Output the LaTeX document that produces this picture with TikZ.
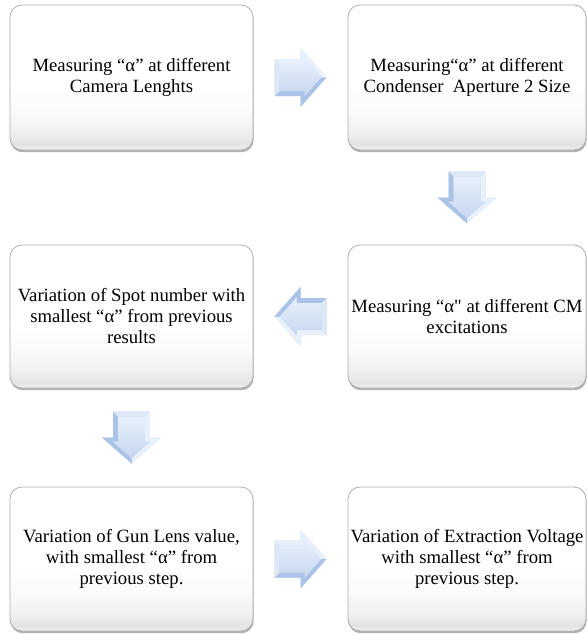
\documentclass[tikz,border=0pt]{standalone}
\usepackage{fontspec}
\setmainfont{Liberation Serif}
\newfontfamily\plainserif[Ligatures=ResetAll]{Liberation Serif}
\usetikzlibrary{calc,shadows}
\definecolor{arrlight}{RGB}{232,240,251}
\definecolor{arrmid}{RGB}{198,215,240}
\definecolor{arrdark}{RGB}{170,195,230}
\pgfdeclareverticalshading{boxshade}{100bp}{color(0bp)=(black!6); color(25bp)=(black!6); color(27bp)=(black!11); color(31bp)=(black!6); color(38bp)=(black!2); color(48bp)=(white); color(100bp)=(white)}
\tikzset{
  stepbox/.style={draw=black!32, line width=0.8pt, rounded corners=12pt,
    shading=boxshade, minimum width=240pt, minimum height=145pt,
    drop shadow={shadow xshift=0.6pt, shadow yshift=-2.2pt, fill=black!55, opacity=0.55},
    align=center, inner sep=0pt, font=\fontsize{18.7}{21}\selectfont},
  blockarrow/.pic={
    \fill[arrmid] (-26,-18.5)--(0,-18.5)--(0,-29.5)--(26,0)--(0,29.5)--(0,18.5)--(-26,18.5)--cycle;
    \fill[arrlight] (-26,-18.5)--(0,-18.5)--(0,-29.5)--(26,0)--(20.7,0)--(4,-18.9)--(4,-13.5)--(-21,-13.5)--cycle;
    \fill[arrdark] (26,0)--(0,29.5)--(0,18.5)--(-26,18.5)--(-21,13.5)--(4,13.5)--(4,18.9)--(20.7,0)--cycle;
    \fill[white!40!arrmid] (-26,-18.5)--(-21,-13.5)--(-21,13.5)--(-26,18.5)--cycle;
    \shade[top color=arrlight, bottom color=arrmid] (-21,-13.5)--(4,-13.5)--(4,-18.9)--(20.7,0)--(4,18.9)--(4,13.5)--(-21,13.5)--cycle;
  }
}
\begin{document}
\begin{tikzpicture}[x=1pt,y=-1pt]
\useasboundingbox (0,0) rectangle (587,635);
\node[stepbox, minimum width=243pt] (b1) at (131.5,77.5) {Measuring “α” at different\\Camera Lenghts};
\node[stepbox, minimum width=238pt] (b2) at (467,77.5) {Measuring“α” at different\\Condenser\ \ Aperture 2 Size};
\node[stepbox, minimum width=238pt, minimum height=143pt] (b3) at (467,316.5) {Measuring “α{\plainserif"} at different CM\\excitations};
\node[stepbox, minimum width=243pt, minimum height=143pt] (b4) at (131.5,316.5) {Variation of Spot number with\\smallest “α” from previous\\results};
\node[stepbox, minimum width=243pt, minimum height=144pt] (b5) at (131.5,559) {Variation of Gun Lens value,\\with smallest “α” from\\previous step.};
\node[stepbox, minimum width=238pt, minimum height=144pt] (b6) at (467,559) {Variation of Extraction Voltage\\with smallest “α” from\\previous step.};
\path ($(b1.east)!0.5!(b2.west)$) pic {blockarrow};
\path ($(b2.south)!0.5!(b3.north)$) pic[rotate=-90] {blockarrow};
\path ($(b3.west)!0.5!(b4.east)$) pic[rotate=180] {blockarrow};
\path ($(b4.south)!0.5!(b5.north)$) pic[rotate=-90] {blockarrow};
\path ($(b5.east)!0.5!(b6.west)$) pic {blockarrow};
\end{tikzpicture}
\end{document}
